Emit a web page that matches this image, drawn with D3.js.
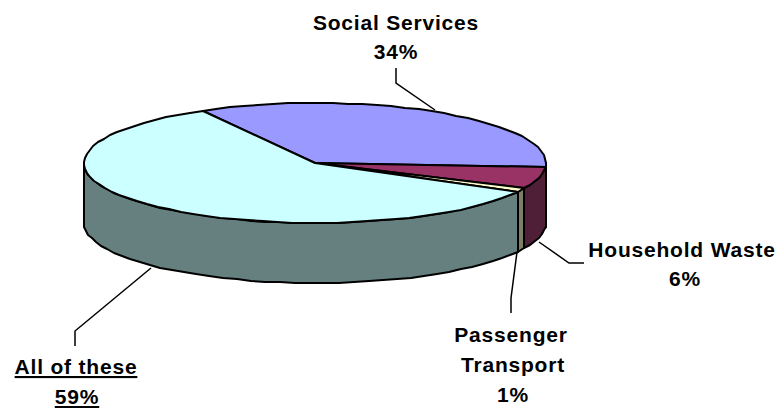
<!DOCTYPE html>
<html><head><meta charset="utf-8">
<script src="https://cdn.jsdelivr.net/npm/d3@7"></script>
<style>html,body{margin:0;background:#fff}svg{display:block}text{font-family:"Liberation Sans",Arial,sans-serif;font-weight:bold;font-size:21px;letter-spacing:.8px;fill:#000;text-anchor:middle}</style>
</head><body><svg id="c" width="779" height="408"></svg>
<script>
const categories=["Social Services","Household Waste","Passenger Transport","All of these"];
const shares=[34,6,1,59];
const topColours=["#9999ff","#993366","#ffffcc","#ccffff"];
const sideColours=["#6b6bb3","#4f1f38","#7f7f66","#668080"];
const labelLines=[["Social Services","34%"],["Household Waste","6%"],["Passenger","Transport","1%"],["All of these","59%"]];
const labelX=[[396,396],[682,685],[511,513,513],[76,77]];
const labelY=[[30,59],[257,286],[342,372,402],[374,404]];
const leaders=[[[396,68],[396,83],[435,110]],[[539,242],[569,263],[584,263]],[[517,252],[511,298],[511,313]],[[151,268],[75,331],[75,346]]];
const underlined=[false,false,false,true];
const svg=d3.select("#c");
const cx=315,cy=163,rx=231,ry=60,depth=60;
const xs=d3.scaleLinear().domain([-1,1]).range([cx-rx,cx+rx]);
const ys=d3.scaleLinear().domain([-1,1]).range([cy-ry,cy+ry]);
const start=-29*Math.PI/180;
const arcs=d3.pie().sort(null).value(d=>d).startAngle(start).endAngle(2*Math.PI+start)(shares);
const stepAngle=Math.PI/48;
const pt=(a,dy=0)=>[Math.round(xs(Math.sin(a))),Math.round(ys(-Math.cos(a))+dy)];
function samples(a0,a1){const n=Math.max(1,Math.ceil((a1-a0)/stepAngle));return d3.range(n+1).map(i=>a0+(a1-a0)*i/n);}
const line=d3.line();
const g=svg.append("g").attr("stroke","#000").attr("stroke-width",2).attr("stroke-linejoin","round");
arcs.forEach((d,i)=>{
  const a0=Math.max(d.startAngle,Math.PI/2),a1=Math.min(d.endAngle,3*Math.PI/2);
  if(a1<=a0)return;
  const s=samples(a0,a1);
  const p=s.map(a=>pt(a)).concat(s.slice().reverse().map(a=>pt(a,depth)));
  g.append("path").attr("d",line(p)+"Z").attr("fill",sideColours[i]);
});
arcs.forEach((d,i)=>{
  const p=[[cx,cy]].concat(samples(d.startAngle,d.endAngle).map(a=>pt(a)));
  g.append("path").attr("d",line(p)+"Z").attr("fill",topColours[i]);
});
svg.append("g").selectAll("path").data(leaders).join("path").attr("d",d=>line(d)).attr("fill","none").attr("stroke","#000").attr("stroke-width",1.5);
categories.forEach((c,i)=>{
  const t=svg.append("text");
  labelLines[i].forEach((s,j)=>{
    t.append("tspan").attr("x",labelX[i][j]).attr("y",labelY[i][j]).attr("text-decoration",underlined[i]?"underline":null).text(s);
  });
});
</script></body></html>
